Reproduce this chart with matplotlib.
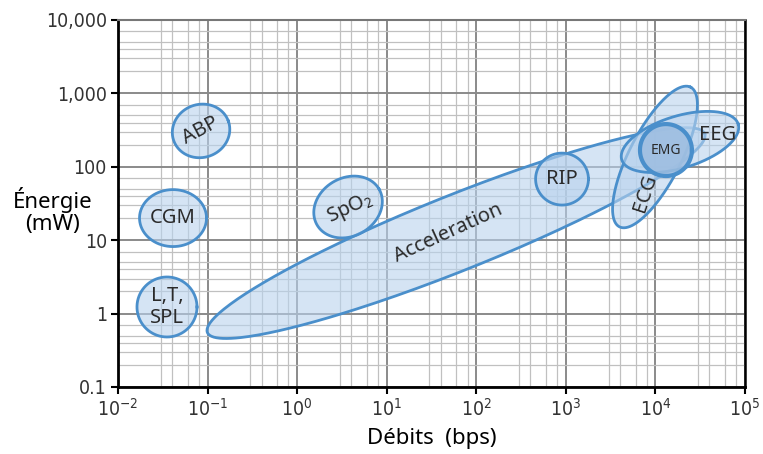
import numpy as np
import matplotlib
matplotlib.use("Agg")
import matplotlib.pyplot as plt
from matplotlib.ticker import LogLocator

plt.rcParams['mathtext.fontset'] = 'custom'
plt.rcParams['mathtext.rm'] = 'DejaVu Sans:stretch=condensed'
plt.rcParams['mathtext.it'] = 'DejaVu Sans:stretch=condensed'

# ellipses: label, centre (bps, mW), size in x-decades (long, short), angle (deg on screen)
names = ['Acceleration', 'ABP', 'CGM', 'LTSPL', 'SpO2', 'RIP', 'ECG', 'EEG', 'EMG']
cx = [59.4, 0.0845, 0.0411, 0.0352, 3.7, 906, 9890, 18800, 13100]
cy = [12.5, 308, 20.0, 1.23, 28.3, 68, 136, 218, 169]
ew = [5.98, 0.648, 0.748, 0.67, 0.80, 0.59, 1.75, 1.36, 0.58]
eh = [0.84, 0.592, 0.636, 0.67, 0.65, 0.58, 0.58, 0.58, 0.58]
ang = [21.8, 20, 0, 0, 30, 0, 63, 17, 0]

# labels
lab_txt = ['Acceleration', 'ABP', 'CGM', 'L,T,\nSPL', 'SpO$_2$', 'RIP', 'ECG', 'EEG', 'EMG']
lab_x = [48.3, 0.083, 0.0411, 0.0352, 3.9, 906, 7660, 50000, 13000]
lab_y = [12.5, 310, 20.0, 1.23, 27.0, 68, 44, 271, 169]
lab_rot = [24.5, 28, 0, 0, 25, 0, 72, 0, 0]

yticks = [0.1, 1, 10, 100, 1000, 10000]
ytick_lab = ['0.1', '1', '10', '100', '1,000', '10,000']
xticks = [1e-2, 1e-1, 1e0, 1e1, 1e2, 1e3, 1e4, 1e5]
xtick_lab = ['$10^{-2}$', '$10^{-1}$', '$10^{0}$', '$10^{1}$', '$10^{2}$', '$10^{3}$', '$10^{4}$', '$10^{5}$']

W, H = 7.63, 4.54
fig = plt.figure(figsize=(W, H), dpi=100)
l, b, r, t = 0.1547, 0.1476, 0.9764, 0.956
ax = fig.add_axes([l, b, r - l, t - b])
ax.set_xscale('log')
ax.set_yscale('log')
ax.set_xlim(1e-2, 1e5)
ax.set_ylim(0.1, 1e4)

# pixels per decade ratio x/y
px_x = (r - l) * W * 100 / 7
px_y = (t - b) * H * 100 / 5
ratio = px_x / px_y

ax.xaxis.set_minor_locator(LogLocator(base=10, subs=[3, 4, 6, 8]))
ax.yaxis.set_minor_locator(LogLocator(base=10, subs=[2, 3, 4, 5, 7]))
ax.grid(True, which='major', color='#8a8a8a', lw=1.4, zorder=0)
ax.grid(True, which='minor', color='#c0c0c0', lw=0.9, zorder=0)
ax.set_axisbelow(True)

tt = np.linspace(0, 2 * np.pi, 300)
for i, n in enumerate(names):
    a = ew[i] / 2
    bb = eh[i] / 2
    th = np.radians(ang[i])
    u = a * np.cos(tt) * np.cos(th) - bb * np.sin(tt) * np.sin(th)
    v = a * np.cos(tt) * np.sin(th) + bb * np.sin(tt) * np.cos(th)
    xs = 10 ** (np.log10(cx[i]) + u)
    ys = 10 ** (np.log10(cy[i]) + v * ratio)
    if n == 'EMG':
        fc, al, lw = '#9dbde0', 0.85, 3.0
    else:
        fc, al, lw = '#b9d3ee', 0.6, 2.0
    ax.fill(xs, ys, color=fc, alpha=al, lw=0, zorder=2 + i)
    ax.plot(xs, ys, color='#4a8fcb', lw=lw, zorder=2 + i)

for i, s in enumerate(lab_txt):
    fs = 10 if s == 'EMG' else 14.5
    fw = 'bold' if s == 'EMG' else 'normal'
    ax.text(lab_x[i], lab_y[i], s, rotation=lab_rot[i], ha='center', va='center',
            fontsize=fs, fontweight=fw, color='#2a2a2a', family=['Noto Sans', 'DejaVu Sans'],
            fontstretch='condensed', linespacing=1.15, zorder=20, rotation_mode='anchor')

ax.set_yticks(yticks)
ax.set_yticklabels(ytick_lab)
ax.set_xticks(xticks)
ax.set_xticklabels(xtick_lab)
ax.tick_params(which='minor', length=0)
ax.tick_params(which='major', length=5, width=1.5, color='black', labelsize=14, pad=3)
for lb in ax.get_yticklabels() + ax.get_xticklabels():
    lb.set_family('DejaVu Sans')
    lb.set_stretch('condensed')
    lb.set_color('#333333')

for side in ['left', 'bottom']:
    ax.spines[side].set_linewidth(2.0)
    ax.spines[side].set_color('black')
ax.spines['right'].set_linewidth(1.8)
ax.spines['top'].set_color('#777777')
ax.spines['top'].set_linewidth(1.5)

fig.text(0.069, 0.535, 'Énergie\n(mW)', ha='center', va='center', fontsize=16,
         family=['Noto Sans', 'DejaVu Sans'], fontweight='medium', linespacing=1.1)
fig.text(0.566, 0.035, 'Débits  (bps)', ha='center', va='center', fontsize=16,
         family=['Noto Sans', 'DejaVu Sans'], fontweight='medium')

fig.savefig('out.png', dpi=100)
